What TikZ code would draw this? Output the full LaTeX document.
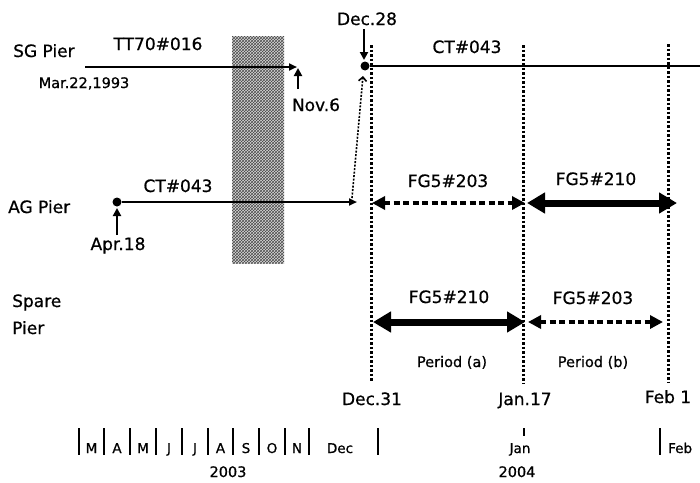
\documentclass[tikz,border=0pt]{standalone}
\usepackage{fontspec}
\setmainfont{DejaVu Sans}[FakeBold=0.7]
\usetikzlibrary{arrows.meta,patterns}
\begin{document}
\begin{tikzpicture}[x=1pt, y=-1pt]
\tikzstyle{big}=[inner sep=0pt, font=\fontsize{17}{20}\selectfont]
\tikzstyle{mid}=[inner sep=0pt, font=\fontsize{14.5}{17}\selectfont]
\tikzstyle{sml}=[inner sep=0pt, font=\fontsize{13.5}{16}\selectfont]
\tikzstyle{run}=[line width=2pt, -{Triangle[length=8pt, width=7pt]}]
\tikzstyle{pointer}=[line width=2.6pt, -{Triangle[length=8pt, width=8pt]}]
\tikzstyle{dot}=[circle, fill, inner sep=0pt, minimum size=9pt]
\tikzstyle{dayline}=[line width=3pt, dash pattern=on 2.5pt off 2pt]
\tikzstyle{swap}=[line width=1.6pt, dash pattern=on 2pt off 1.5pt, -{Straight Barb[length=4pt, width=8pt]}]
\tikzstyle{fgthick}=[line width=7pt, {Triangle[length=18pt, width=20pt]}-{Triangle[length=18pt, width=20pt]}]
\tikzstyle{fgdash}=[line width=4pt, dash pattern=on 6pt off 3.5pt, {Triangle[length=13pt, width=13pt]}-{Triangle[length=13pt, width=13pt]}]
\tikzstyle{tick}=[line width=2pt]
\useasboundingbox (0,0) rectangle (700,482);

% gap in the record
\fill[gray!30] (232,36) rectangle (284,263);
\fill[pattern=crosshatch, pattern color=black!70] (232,36) rectangle (284,263);

% row labels
\node[big, anchor=base west] (sg) at (13,57) {SG Pier};
\node[big, anchor=base west] (ag) at (8,213) {AG Pier};
\node[big, anchor=base west] (spare) at (12,307) {Spare};
\node[big, anchor=base west] (pier) at (12,334) {Pier};

% SG pier
\coordinate (sgstart) at (85,67); \coordinate (sgend) at (297,67);
\draw[run] (sgstart) -- (sgend);
\node[big, anchor=base] (tt70) at (158,50) {TT70\#016};
\node[mid, anchor=base] (mar22) at (84,88) {Mar.22,1993};
\node[big, anchor=base] (nov6) at (316,111) {Nov.6};
\coordinate (novtail) at (298,89); \coordinate (novtip) at (298,68);
\draw[pointer] (novtail) -- (novtip);
\node[dot] (sgdot) at (365,66) {};
\coordinate (sgright) at (700,66);
\draw[line width=2pt] (sgdot) -- (sgright);
\node[big, anchor=base] (dec28) at (367,25) {Dec.28};
\coordinate (dectail) at (364,29); \coordinate (dectip) at (364,60);
\draw[pointer] (dectail) -- (dectip);
\node[big, anchor=base] (ctsg) at (467,53) {CT\#043};

% AG pier
\node[dot] (agdot) at (117,202) {};
\coordinate (agend) at (357,202);
\draw[run] (agdot) -- (agend);
\node[big, anchor=base] (ctag) at (178,192) {CT\#043};
\node[big, anchor=base] (apr18) at (118,250) {Apr.18};
\coordinate (aprtail) at (117,235); \coordinate (aprtip) at (117,208);
\draw[pointer] (aprtail) -- (aprtip);
\coordinate (moveoff) at (352,198); \coordinate (moveon) at (363,76);
\draw[swap] (moveoff) -- (moveon);

% day lines
\node[big, anchor=base] (dec31) at (372,405) {Dec.31};
\node[big, anchor=base] (jan17) at (525,405) {Jan.17};
\node[big, anchor=base] (feb1) at (668,403) {Feb 1};
\coordinate (l1top) at (371,45); \coordinate (l1bot) at (371,382);
\coordinate (l2top) at (523,45); \coordinate (l2bot) at (523,383);
\coordinate (l3top) at (668,44); \coordinate (l3bot) at (668,383);
\draw[dayline] (l1top) -- (l1bot);
\draw[dayline] (l2top) -- (l2bot);
\draw[dayline] (l3top) -- (l3bot);

% FG5 swaps
\coordinate (ag1) at (372,203); \coordinate (ag2) at (525,203);
\coordinate (ag3) at (527,203); \coordinate (ag4) at (677,203);
\draw[fgdash] (ag1) -- (ag2);
\draw[fgthick] (ag3) -- (ag4);
\node[big, anchor=base] (fg203a) at (448,187) {FG5\#203};
\node[big, anchor=base] (fg210a) at (596,185) {FG5\#210};
\coordinate (sp1) at (373,322); \coordinate (sp2) at (525,322);
\coordinate (sp3) at (528,322); \coordinate (sp4) at (663,322);
\draw[fgthick] (sp1) -- (sp2);
\draw[fgdash] (sp3) -- (sp4);
\node[big, anchor=base] (fg210b) at (449,303) {FG5\#210};
\node[big, anchor=base] (fg203b) at (593,304) {FG5\#203};
\node[mid, anchor=base] (pera) at (452,367) {Period (a)};
\node[mid, anchor=base] (perb) at (593,367) {Period (b)};

% month axis
\draw[tick] (79,428) -- (79,455); \draw[tick] (104,428) -- (104,455); \draw[tick] (130,428) -- (130,455); \draw[tick] (156,428) -- (156,455); \draw[tick] (182,428) -- (182,455);
\draw[tick] (208,428) -- (208,455); \draw[tick] (233,428) -- (233,455); \draw[tick] (259,428) -- (259,455); \draw[tick] (285,428) -- (285,455); \draw[tick] (309,428) -- (309,455);
\draw[tick] (378,428) -- (378,455); \draw[tick] (524,428) -- (524,436); \draw[tick] (660,428) -- (660,455);
\node[sml, anchor=base] (m3) at (91.5,453) {M}; \node[sml, anchor=base] (m4) at (117,453) {A}; \node[sml, anchor=base] (m5) at (143,453) {M}; \node[sml, anchor=base] (m6) at (169,453) {J}; \node[sml, anchor=base] (m7) at (195,453) {J};
\node[sml, anchor=base] (m8) at (220.5,453) {A}; \node[sml, anchor=base] (m9) at (246,453) {S}; \node[sml, anchor=base] (m10) at (272,453) {O}; \node[sml, anchor=base] (m11) at (297,453) {N}; \node[sml, anchor=base] (m12) at (340,453) {Dec};
\node[sml, anchor=base] (jan) at (520,453) {Jan};
\node[sml, anchor=base west] (feb) at (668,453) {Feb};
\node[mid, anchor=base] (y2003) at (228,477) {2003};
\node[mid, anchor=base] (y2004) at (517,477) {2004};
\end{tikzpicture}
\end{document}
